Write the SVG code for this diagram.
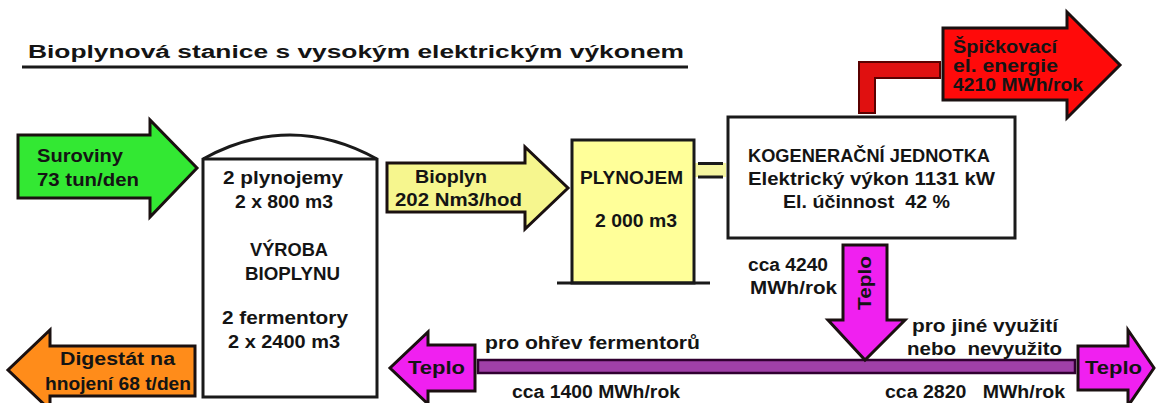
<svg xmlns="http://www.w3.org/2000/svg" width="1156" height="403" viewBox="0 0 1156 403">
<style>
text{font-family:"Liberation Sans",Arial,sans-serif;font-weight:bold;fill:#141414;font-size:18px}
.arrow{stroke:#1a1010;stroke-width:3;stroke-linejoin:miter}
.box{fill:#fff;stroke:#1a1a1a;stroke-width:3}
</style>
<rect width="1156" height="403" fill="#fff"/>
<g id="title">
<text x="28" y="58" font-size="23" textLength="656" lengthAdjust="spacingAndGlyphs">Bioplynová stanice s vysokým elektrickým výkonem</text>
<line x1="22" y1="67" x2="688" y2="67" stroke="#1a1a1a" stroke-width="3"/>
</g>
<g id="connectors">
<path d="M859,113 V62 H940 V78 H875 V113 Z" fill="#e01010" stroke="#5a0000" stroke-width="2"/>
<rect x="695" y="163" width="31" height="14" fill="#f6f6a0"/>
<line x1="698" y1="163.5" x2="723" y2="163.5" stroke="#1a1a1a" stroke-width="3"/>
<line x1="698" y1="177" x2="723" y2="177" stroke="#1a1a1a" stroke-width="3"/>
<rect x="478" y="360" width="597" height="13" fill="#a040a8" stroke="#300030" stroke-width="2.5"/>
</g>
<g id="suroviny">
<path class="arrow" d="M18,135 H150 V120 L197,168 L150,217 V198 H18 Z" fill="#33e833"/>
<text x="37" y="162" textLength="86" lengthAdjust="spacingAndGlyphs">Suroviny</text>
<text x="37" y="186" textLength="102" lengthAdjust="spacingAndGlyphs">73 tun/den</text>
</g>
<g id="vyroba">
<path class="box" d="M203,397 V159 Q290,111 377,159 V397 Z"/>
<line x1="203" y1="159" x2="377" y2="159" stroke="#1a1a1a" stroke-width="3"/>
<text x="223" y="184" textLength="120" lengthAdjust="spacingAndGlyphs">2 plynojemy</text>
<text x="235" y="208" textLength="98" lengthAdjust="spacingAndGlyphs">2 x 800 m3</text>
<text x="250" y="256" textLength="78" lengthAdjust="spacingAndGlyphs">VÝROBA</text>
<text x="245" y="280" textLength="95" lengthAdjust="spacingAndGlyphs">BIOPLYNU</text>
<text x="222" y="324" textLength="126" lengthAdjust="spacingAndGlyphs">2 fermentory</text>
<text x="228" y="348" textLength="112" lengthAdjust="spacingAndGlyphs">2 x 2400 m3</text>
</g>
<g id="bioplyn">
<path class="arrow" d="M387,163 H525 V147 L568,188 L525,229 V212 H387 Z" fill="#f6f68e"/>
<text x="415" y="183" textLength="72" lengthAdjust="spacingAndGlyphs">Bioplyn</text>
<text x="395" y="206" textLength="127" lengthAdjust="spacingAndGlyphs">202 Nm3/hod</text>
</g>
<g id="plynojem">
<rect x="572" y="140" width="122" height="143" fill="#ffff99" stroke="#1a1a1a" stroke-width="3"/>
<line x1="557" y1="283" x2="710" y2="283" stroke="#1a1a1a" stroke-width="3"/>
<text x="580" y="184" textLength="103" lengthAdjust="spacingAndGlyphs">PLYNOJEM</text>
<text x="595" y="227" textLength="82" lengthAdjust="spacingAndGlyphs">2 000 m3</text>
</g>
<g id="kogenerace">
<rect class="box" x="728" y="117" width="287" height="121"/>
<text x="748" y="162" textLength="242" lengthAdjust="spacingAndGlyphs">KOGENERAČNÍ JEDNOTKA</text>
<text x="748" y="185" textLength="247" lengthAdjust="spacingAndGlyphs">Elektrický výkon 1131 kW</text>
<text x="783" y="208" xml:space="preserve" textLength="167" lengthAdjust="spacingAndGlyphs">El. účinnost  42 %</text>
</g>
<g id="spickova">
<path class="arrow" d="M943,28 H1067 V12 L1120,65 L1067,118 V100 H943 Z" fill="#ff0a0a" stroke="#300000"/>
<text x="953" y="53" font-size="19" fill="#2a0000" textLength="104" lengthAdjust="spacingAndGlyphs">Špičkovací</text>
<text x="953" y="72" font-size="19" fill="#2a0000" textLength="105" lengthAdjust="spacingAndGlyphs">el. energie</text>
<text x="953" y="91" font-size="19" fill="#2a0000" textLength="130" lengthAdjust="spacingAndGlyphs">4210 MWh/rok</text>
</g>
<g id="teplo-dolu">
<path class="arrow" d="M843,245 H887 V320 H905 L865,360 L828,320 H843 Z" fill="#f020f0" stroke="#200020"/>
<text transform="translate(871,283) rotate(-90)" text-anchor="middle" fill="#3a003a" font-size="17" textLength="54" lengthAdjust="spacingAndGlyphs">Teplo</text>
<text x="748" y="271" textLength="80" lengthAdjust="spacingAndGlyphs">cca 4240</text>
<text x="750" y="294" textLength="87" lengthAdjust="spacingAndGlyphs">MWh/rok</text>
</g>
<g id="teplo-vlevo">
<path class="arrow" d="M475,345 V391 H428 V404 L390,368 L428,332 V345 Z" fill="#f020f0" stroke="#200020"/>
<text x="408" y="374" fill="#3a003a" textLength="57" lengthAdjust="spacingAndGlyphs">Teplo</text>
<text x="485" y="349" textLength="215" lengthAdjust="spacingAndGlyphs">pro ohřev fermentorů</text>
<text x="512" y="398" textLength="168" lengthAdjust="spacingAndGlyphs">cca 1400 MWh/rok</text>
</g>
<g id="teplo-vpravo">
<path class="arrow" d="M1078,346 H1128 V330 L1154,368 L1128,406 V390 H1078 Z" fill="#f020f0" stroke="#200020"/>
<text x="1085" y="374" fill="#3a003a" textLength="57" lengthAdjust="spacingAndGlyphs">Teplo</text>
<text x="912" y="332" textLength="146" lengthAdjust="spacingAndGlyphs">pro jiné využití</text>
<text x="907" y="355" xml:space="preserve" textLength="155" lengthAdjust="spacingAndGlyphs">nebo  nevyužito</text>
<text x="885" y="398" xml:space="preserve" textLength="180" lengthAdjust="spacingAndGlyphs">cca 2820   MWh/rok</text>
</g>
<g id="digestat">
<path class="arrow" d="M195,346 V396 H50 V410 L8,370 L50,330 V346 Z" fill="#ff8c1a" stroke="#200800"/>
<text x="60" y="365" fill="#3a0a00" textLength="115" lengthAdjust="spacingAndGlyphs">Digestát na</text>
<text x="45" y="390" fill="#3a0a00" textLength="146" lengthAdjust="spacingAndGlyphs">hnojení 68 t/den</text>
</g>
</svg>
